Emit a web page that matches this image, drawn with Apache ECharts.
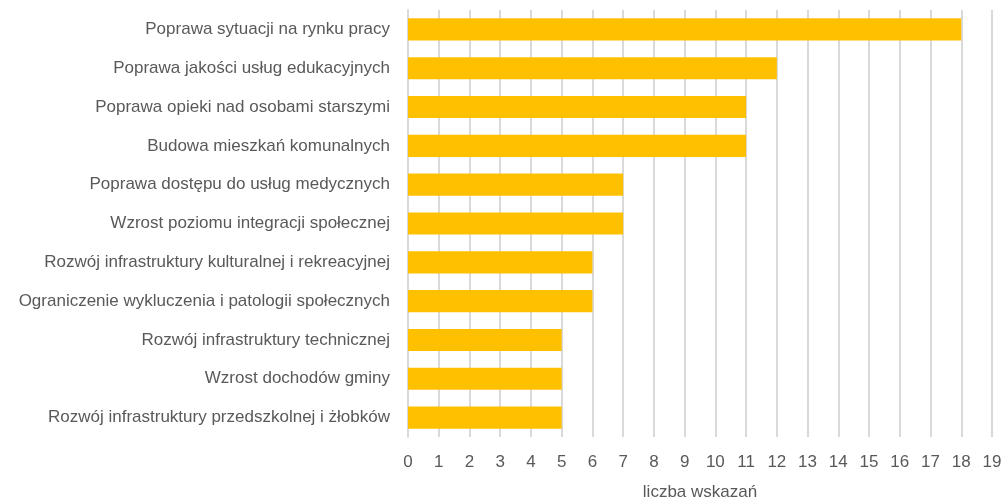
<!DOCTYPE html>
<html>
<head>
<meta charset="utf-8">
<script src="https://cdn.jsdelivr.net/npm/echarts@6/dist/echarts.min.js"></script>
<style>
  html, body { margin: 0; padding: 0; background: #fff; }
  #chart { width: 1002px; height: 504px; }
</style>
</head>
<body>
<div id="chart"></div>
<script>
  // kategorie od góry do dołu
  var categories = [
    'Poprawa sytuacji na rynku pracy',
    'Poprawa jakości usług edukacyjnych',
    'Poprawa opieki nad osobami starszymi',
    'Budowa mieszkań komunalnych',
    'Poprawa dostępu do usług medycznych',
    'Wzrost poziomu integracji społecznej',
    'Rozwój infrastruktury kulturalnej i rekreacyjnej',
    'Ograniczenie wykluczenia i patologii społecznych',
    'Rozwój infrastruktury technicznej',
    'Wzrost dochodów gminy',
    'Rozwój infrastruktury przedszkolnej i żłobków'
  ];
  var values = [18, 12, 11, 11, 7, 7, 6, 6, 5, 5, 5];
  var axisName = 'liczba wskazań';

  var font = '"Liberation Sans", Arial, sans-serif';

  var chart = echarts.init(document.getElementById('chart'));
  chart.setOption({
    animation: false,
    textStyle: { fontFamily: font },
    grid: { left: 408, right: 10, top: 10, bottom: 67, containLabel: false, outerBoundsMode: 'none' },
    xAxis: {
      type: 'value',
      min: 0,
      max: 19,
      interval: 1,
      name: axisName,
      nameLocation: 'middle',
      nameGap: 47,
      nameTextStyle: { color: '#595959', fontSize: 17, fontFamily: font },
      axisLine: { show: false },
      axisTick: { show: false },
      axisLabel: { color: '#595959', fontSize: 17, fontFamily: font, margin: 17 },
      splitLine: { lineStyle: { color: '#d9d9d9', width: 2 } }
    },
    yAxis: {
      type: 'category',
      data: categories,
      inverse: true,
      axisLine: { lineStyle: { color: '#d9d9d9', width: 2 } },
      axisTick: { show: false },
      axisLabel: { color: '#595959', fontSize: 17, fontFamily: font, margin: 18 }
    },
    series: [{
      type: 'bar',
      data: values,
      barCategoryGap: '43%',
      itemStyle: { color: '#FFC000' }
    }]
  });
</script>
</body>
</html>
